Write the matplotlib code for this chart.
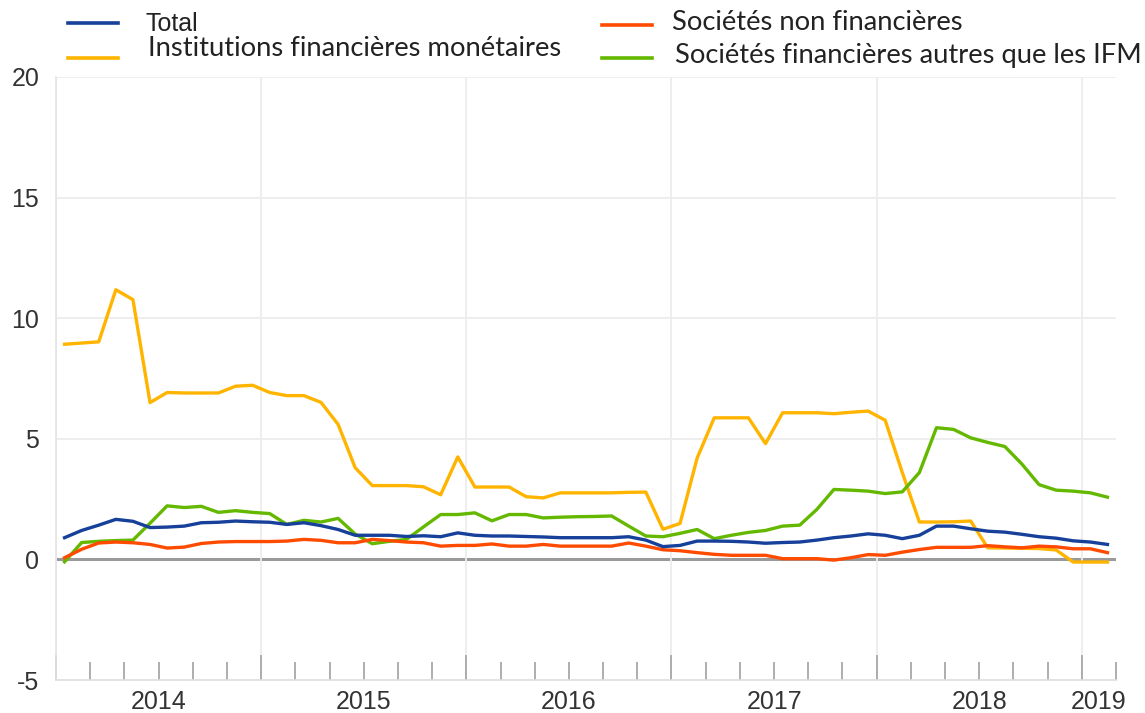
import numpy as np
import matplotlib
matplotlib.use("Agg")
import matplotlib.pyplot as plt
from matplotlib.lines import Line2D
from matplotlib.ticker import MultipleLocator

plt.rcParams['font.family'] = ['Liberation Sans', 'DejaVu Sans']

#: Monthly data, Jan 2014 - Feb 2019
years = [2014, 2015, 2016, 2017, 2018, 2019]
labels = ["Total", "Institutions financières monétaires",
          "Sociétés non financières", "Sociétés financières autres que les IFM"]

total = [0.9, 1.2, 1.42, 1.66, 1.58, 1.32, 1.34, 1.38, 1.52, 1.54, 1.59, 1.56,
         1.54, 1.45, 1.52, 1.4, 1.24, 1.0, 1.0, 1.0, 0.95, 0.98, 0.94, 1.1,
         1.0, 0.97, 0.97, 0.95, 0.93, 0.9, 0.9, 0.9, 0.9, 0.94, 0.8, 0.53,
         0.58, 0.76, 0.76, 0.75, 0.72, 0.67, 0.7, 0.72, 0.8, 0.9, 0.97, 1.06,
         1.0, 0.86, 1.0, 1.38, 1.38, 1.27, 1.17, 1.13, 1.04, 0.94, 0.88, 0.77,
         0.72, 0.62]
ifm = [8.92, 8.97, 9.02, 11.18, 10.77, 6.5, 6.92, 6.9, 6.9, 6.9, 7.18, 7.22,
       6.92, 6.79, 6.79, 6.51, 5.6, 3.8, 3.06, 3.06, 3.06, 3.01, 2.68, 4.25,
       3.0, 3.0, 3.0, 2.6, 2.55, 2.76, 2.76, 2.76, 2.76, 2.78, 2.79, 1.25,
       1.49, 4.2, 5.87, 5.87, 5.87, 4.8, 6.08, 6.08, 6.08, 6.04, 6.1, 6.15,
       5.77, 3.6, 1.55, 1.55, 1.56, 1.59, 0.48, 0.47, 0.46, 0.45, 0.39, -0.11,
       -0.11, -0.11]
snf = [0.07, 0.42, 0.68, 0.72, 0.69, 0.62, 0.47, 0.51, 0.66, 0.72, 0.74, 0.74,
       0.74, 0.76, 0.83, 0.79, 0.69, 0.69, 0.83, 0.78, 0.72, 0.69, 0.55, 0.58,
       0.58, 0.64, 0.55, 0.55, 0.62, 0.55, 0.55, 0.55, 0.55, 0.68, 0.55, 0.4,
       0.36, 0.28, 0.21, 0.17, 0.17, 0.17, 0.03, 0.03, 0.03, -0.03, 0.07, 0.2,
       0.17, 0.3, 0.41, 0.5, 0.5, 0.5, 0.57, 0.52, 0.48, 0.55, 0.52, 0.44,
       0.44, 0.28]
sf = [-0.1, 0.7, 0.75, 0.78, 0.8, 1.5, 2.22, 2.15, 2.2, 1.95, 2.02, 1.95,
      1.9, 1.45, 1.62, 1.55, 1.7, 1.05, 0.65, 0.75, 0.83, 1.35, 1.86, 1.86,
      1.93, 1.6, 1.86, 1.86, 1.72, 1.75, 1.77, 1.78, 1.8, 1.38, 0.97, 0.94,
      1.08, 1.24, 0.86, 1.0, 1.12, 1.2, 1.38, 1.42, 2.07, 2.9, 2.87, 2.83,
      2.73, 2.8, 3.6, 5.46, 5.39, 5.04, 4.85, 4.68, 3.95, 3.1, 2.87, 2.83,
      2.76, 2.58]

colors = ["#16409A", "#FFB400", "#FF4B00", "#65B800"]

x = np.arange(len(total)) + 0.5   # mid-month positions
xmax = 62

fig = plt.figure(figsize=(11.45, 7.13), dpi=100)
ax = fig.add_axes([56 / 1145, 33 / 713, (1116 - 56) / 1145, (680 - 77) / 713])

#: grid and axes styling
ax.set_xlim(0, xmax)
ax.set_ylim(-5, 20)
ax.set_yticks([-5, 0, 5, 10, 15, 20])
ax.set_yticklabels(["-5", "0", "5", "10", "15", "20"])
for yv in [5, 10, 15, 20]:
    ax.axhline(yv, color="#EDEDED", lw=1.3, zorder=0)
ax.axhline(0, color="#9A9A9A", lw=2.2, zorder=1)

ax.xaxis.set_major_locator(MultipleLocator(12))
ax.xaxis.set_minor_locator(MultipleLocator(2))
ax.grid(axis="x", which="major", color="#EDEDED", lw=1.3, zorder=0)
ax.tick_params(axis="x", which="major", direction="in", length=18, width=1.3,
               color="#A8A8A8", labelbottom=False)
ax.tick_params(axis="x", which="minor", direction="in", length=13, width=1.3,
               color="#A8A8A8")
ax.tick_params(axis="y", length=0, pad=12, labelsize=18, labelcolor="#333333")

for s in ["top", "right"]:
    ax.spines[s].set_visible(False)
ax.spines["left"].set_color("#E4E4E4")
ax.spines["bottom"].set_color("#DDDDDD")
ax.spines["left"].set_linewidth(1.2)
ax.spines["bottom"].set_linewidth(1.2)

#: year labels centred on each year's visible span
for i, yr in enumerate(years):
    a, b = i * 12, min((i + 1) * 12, xmax)
    ax.text((a + b) / 2, -0.016, str(yr), transform=ax.get_xaxis_transform(),
            ha="center", va="top", fontsize=18, color="#333333")

#: lines
for vals, c in zip([ifm, sf, snf, total], [colors[1], colors[3], colors[2], colors[0]]):
    ax.plot(x, vals, color=c, lw=2.4, solid_joinstyle="round", zorder=3)

#: legend drawn by hand (two columns)
def fx(px):
    return px / 1145
def fy(py):
    return 1 - py / 713

leg = [(68, 23, 145, 24, "Liberation Sans", 18),
       (68, 58, 148, 48, "Lato", 19.7),
       (602, 25, 672, 22, "Lato", 19.7),
       (602, 58, 675, 55, "Lato", 19.7)]
for (hx, hy, tx, ty, fam, fs), lab, c in zip(leg, labels, colors):
    fig.add_artist(Line2D([fx(hx), fx(hx + 50)], [fy(hy), fy(hy)], color=c, lw=2.6))
    fig.text(fx(tx), fy(ty), lab, ha="left", va="center", fontsize=fs,
             family=fam, color="#222222")

fig.savefig("out.png", dpi=100)
